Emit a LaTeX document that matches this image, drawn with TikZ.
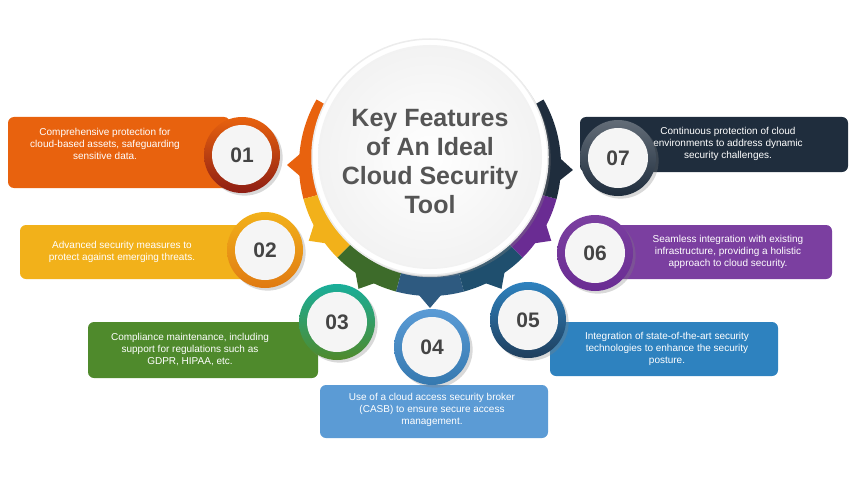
\documentclass[tikz,border=0pt]{standalone}
\usepackage{fontspec}
\setmainfont{Liberation Sans}
\usetikzlibrary{shadows,calc}
\definecolor{cOr}{HTML}{E8620E}
\definecolor{cOrD}{HTML}{8E1E14}
\definecolor{cYe}{HTML}{F2B11A}
\definecolor{cYeD}{HTML}{E07A12}
\definecolor{cGr}{HTML}{4F8A2C}
\definecolor{cGrR}{HTML}{3D6B2A}
\definecolor{cTe}{HTML}{1AAE9A}
\definecolor{cBl}{HTML}{5B9BD5}
\definecolor{cBlD}{HTML}{3579B0}
\definecolor{cBlR}{HTML}{2E5A80}
\definecolor{cB5}{HTML}{2E82BF}
\definecolor{cB5D}{HTML}{1F3E5C}
\definecolor{cB5R}{HTML}{1F4F6E}
\definecolor{cPu}{HTML}{7B3FA0}
\definecolor{cPuD}{HTML}{6A2C93}
\definecolor{cNa}{HTML}{1F2D3D}
\definecolor{cTx}{HTML}{555555}
\begin{document}
\begin{tikzpicture}[x=1pt,y=-1pt,
  btxt/.style={text=white,font=\fontsize{10}{12}\selectfont,align=center},
  badge/.style={circle,minimum size=76pt,inner sep=0pt,drop shadow={opacity=0.3}},
  inner/.style={circle,minimum size=60pt,inner sep=0pt,fill=gray!8,font=\bfseries\fontsize{21}{21}\selectfont,text=cTx!80!black}]
\useasboundingbox (0,0) rectangle (861,484);
% boxes
\fill[cOr,rounded corners=6pt] (8,117) rectangle (230,188);
\node[btxt] (t1) at (105,144) {Comprehensive protection for\\cloud-based assets, safeguarding\\sensitive data.};
\fill[cYe,rounded corners=6pt] (20,225) rectangle (250,279);
\node[btxt] (t2) at (122,252) {Advanced security measures to\\protect against emerging threats.};
\fill[cGr,rounded corners=6pt] (88,322) rectangle (318,378);
\node[btxt] (t3) at (190,350) {Compliance maintenance, including\\support for regulations such as\\GDPR, HIPAA, etc.};
\fill[cBl,rounded corners=6pt] (320,385) rectangle (548,438);
\node[btxt] (t4) at (432,410) {Use of a cloud access security broker\\(CASB) to ensure secure access\\management.};
\fill[cB5,rounded corners=6pt] (550,322) rectangle (778,376);
\node[btxt] (t5) at (667,349) {Integration of state-of-the-art security\\technologies to enhance the security\\posture.};
\fill[cPu,rounded corners=6pt] (608,225) rectangle (832,279);
\node[btxt] (t6) at (728,252) {Seamless integration with existing\\infrastructure, providing a holistic\\approach to cloud security.};
\fill[cNa,rounded corners=6pt] (580,117) rectangle (848,172);
\node[btxt] (t7) at (728,144) {Continuous protection of cloud\\environments to address dynamic\\security challenges.};
% ring segments with pointers
\coordinate (c) at (430,165);
\foreach \a/\b/\m/\col in {-150/-195/-180/cOr,-195/-225/-212/cYe,-225/-255/-240/cGrR,-255/-285/-270/cBlR,-285/-315/-300/cB5R,-315/-345/-328/cPuD,-345/-390/-358/cNa}{
  \fill[\col] ($(c)+(\a:131)$) arc(\a:\b:131) -- ($(c)+(\b:112)$) arc(\b:\a:112) -- cycle;
  \fill[\col] ($(c)+(\m+6:128)$) -- ($(c)+(\m:143)$) -- ($(c)+(\m-6:128)$) -- cycle;}
% central circle
\node[circle,minimum size=236pt,fill=white,draw=gray!15,line width=1.5pt,drop shadow={opacity=0.35}] (ctr) at (430,157) {};
\node[circle,minimum size=224pt,inner color=white,outer color=gray!10] (ctrin) at (430,157) {};
\node[font=\bfseries\fontsize{25}{29}\selectfont,text=cTx,align=center] (title) at (430,162) {Key Features\\of An Ideal\\Cloud Security\\Tool};
% badges
\foreach \n/\x/\y/\ca/\cb in {01/242/155/cOr/cOrD,02/265/250/cYe/cYeD,03/337/322/cTe/cGr,04/432/347/cBl/cBlD,05/528/320/cB5/cB5D,06/595/253/cPu/cPuD,07/618/158/cNa!70/cNa}{
  \node[badge,top color=\ca,bottom color=\cb] (b\n) at (\x,\y) {};
  \node[inner] (i\n) at (\x,\y) {\n};}
\end{tikzpicture}
\end{document}
